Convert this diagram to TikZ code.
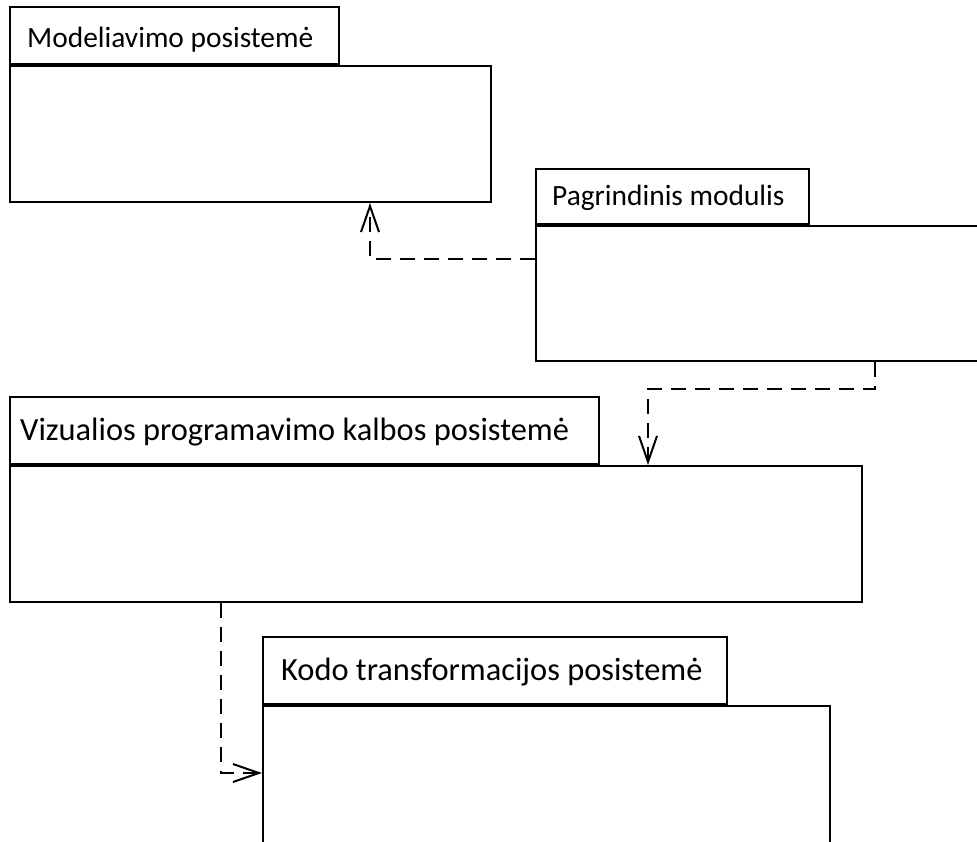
\documentclass[tikz,border=0pt]{standalone}
\usepackage{fontspec}
\setmainfont{Carlito}
\usetikzlibrary{arrows.meta}
\begin{document}
\begin{tikzpicture}[x=1pt,y=-1pt,
  pkg/.style={draw=black,line width=2pt,fill=white,inner sep=0pt,anchor=north west},
  tab/.style={draw=black,line width=2pt,fill=white,inner sep=0pt,anchor=south west},
  title/.style={anchor=base west,inner sep=0pt},
  small/.style={font=\fontsize{29.4}{34}\selectfont},
  big/.style={font=\fontsize{32.4}{38}\selectfont},
  dep/.style={line width=2pt,dash pattern=on 15pt off 9pt,
    -{Straight Barb[length=26pt,width=18pt,line width=2pt]}}]
\useasboundingbox (0,0) rectangle (977,841);
\fill[white] (0,0) rectangle (977,841);

% Modeliavimo posistemė
\node[pkg,minimum width=481pt,minimum height=136pt] (mb) at (9,65) {};
\node[tab,minimum width=329pt,minimum height=57pt] (mt) at (mb.north west) {};
\node[title,small] (ml) at (27,47) {Modeliavimo posistemė};

% Pagrindinis modulis
\node[pkg,minimum width=460pt,minimum height=135pt] (pb) at (535,225) {};
\node[tab,minimum width=273pt,minimum height=55pt] (pt) at (pb.north west) {};
\node[title,small] (pl) at (552,205) {Pagrindinis modulis};

% Vizualios programavimo kalbos posistemė
\node[pkg,minimum width=852pt,minimum height=136pt] (vb) at (9,465) {};
\node[tab,minimum width=589pt,minimum height=67pt] (vt) at (vb.north west) {};
\node[title,big] (vl) at (20,440) {Vizualios programavimo kalbos posistemė};

% Kodo transformacijos posistemė
\node[pkg,minimum width=567pt,minimum height=160pt] (kb) at (262,705) {};
\node[tab,minimum width=464pt,minimum height=67pt] (kt) at (kb.north west) {};
\node[title,big] (kl) at (281,680) {Kodo transformacijos posistemė};

% dependencies
\coordinate (d1) at (370,259);
\draw[dep] (pb.west |- d1) -| (d1 |- mb.south);
\coordinate (d2a) at (875,389);
\coordinate (d2b) at (648,389);
\draw[dep] (d2a |- pb.south) -- (d2a) -- (d2b) -- (d2b |- vb.north);
\coordinate (d3) at (221,773);
\draw[dep] (d3 |- vb.south) |- (kb.west |- d3);
\end{tikzpicture}
\end{document}
